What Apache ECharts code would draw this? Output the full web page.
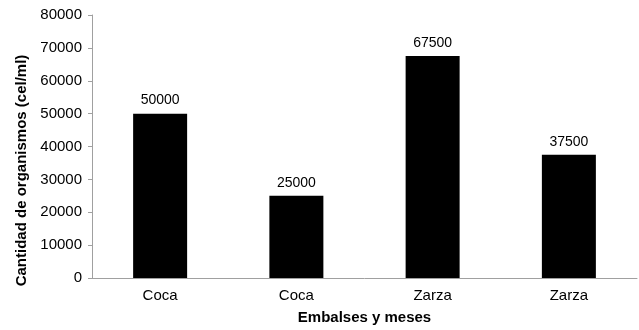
<!DOCTYPE html>
<html>
<head>
<meta charset="utf-8">
<script src="https://cdn.jsdelivr.net/npm/echarts@6/dist/echarts.min.js"></script>
<style>
    html, body { margin: 0; padding: 0; background: #fff; }
    #chart { width: 639px; height: 330px; }
</style>
</head>
<body>
<div id="chart"></div>
<script>
    const categories = ['Coca', 'Coca', 'Zarza', 'Zarza']
    const values = [50000, 25000, 67500, 37500]
    const yMax = 80000
    const yStep = 10000

    const chart = echarts.init(document.getElementById('chart'))
    const font = 'Liberation Sans, Arial, sans-serif'
    const options = {
        animation: false,
        grid: {
            left: 92,
            right: 2,
            top: 15,
            bottom: 47
        },
        xAxis: {
            type: 'category',
            data: categories,
            name: 'Embalses y meses',
            nameLocation: 'middle',
            nameGap: 32,
            nameTextStyle: { fontFamily: font, fontSize: 15, fontWeight: 'bold', color: '#000' },
            axisLine: { lineStyle: { color: '#a0a0a0' } },
            axisTick: { length: 5, lineStyle: { color: '#a0a0a0' } },
            axisLabel: { fontFamily: font, fontSize: 15, color: '#000', margin: 10 }
        },
        yAxis: {
            type: 'value',
            min: 0,
            max: yMax,
            interval: yStep,
            name: 'Cantidad de organismos (cel/ml)',
            nameLocation: 'middle',
            nameGap: 62,
            nameTextStyle: {
                fontFamily: font, fontSize: 15, fontWeight: 'bold', color: '#000',
                padding: [0, 48, 0, 0]
            },
            axisLine: { show: true, lineStyle: { color: '#a0a0a0' } },
            axisTick: { show: true, length: 4, lineStyle: { color: '#a0a0a0' } },
            axisLabel: {
                fontFamily: font, fontSize: 15, color: '#000', margin: 10,
                formatter: v => String(v)
            },
            splitLine: { show: false }
        },
        series: [
            {
                type: 'bar',
                data: values,
                barWidth: 54,
                itemStyle: { color: '#000' },
                label: {
                    show: true,
                    position: 'top',
                    distance: 6,
                    fontFamily: font,
                    fontSize: 14,
                    color: '#000'
                }
            }
        ]
    }
    chart.setOption(options)
</script>
</body>
</html>
